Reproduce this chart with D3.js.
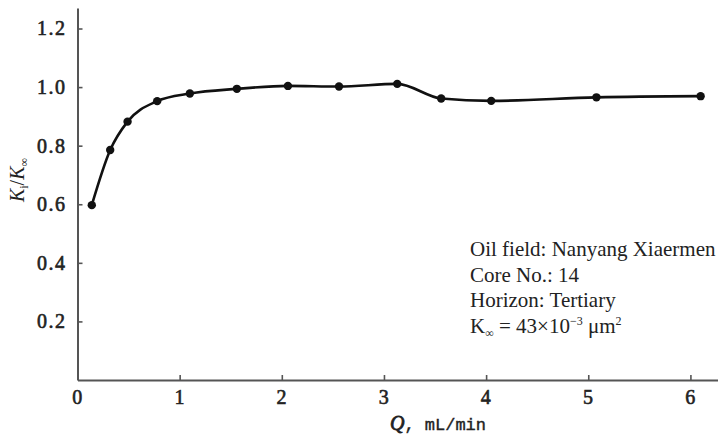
<!DOCTYPE html>
<html>
<head>
<meta charset="utf-8">
<script src="https://cdn.jsdelivr.net/npm/d3@7"></script>
<style>
  body { margin: 0; background: #fff; }
  svg { display: block; }
</style>
</head>
<body>
<div id="vis"></div>
<script>
// flow rate Q (mL/min) and ratio Ki/K∞
const flowRate = [0.14, 0.32, 0.49, 0.78, 1.10, 1.56, 2.06, 2.56, 3.13, 3.56, 4.05, 5.08, 6.10];
const permRatio = [0.597, 0.785, 0.882, 0.952, 0.978, 0.994, 1.004, 1.002, 1.011, 0.961, 0.953, 0.965, 0.969];
const xTicks = [0, 1, 2, 3, 4, 5, 6];
const yTicks = [0.2, 0.4, 0.6, 0.8, 1.0, 1.2];
const noteLines = ["Oil field: Nanyang Xiaermen", "Core No.: 14", "Horizon: Tertiary"];

const width = 718, height = 437;
const axisColor = "#555";
const serif = "Liberation Serif";

const svg = d3.select("#vis").append("svg")
  .attr("width", width)
  .attr("height", height);

const x = d3.scaleLinear().domain([0, 6.27]).range([77.5, 718]);
const y = d3.scaleLinear().domain([0, 1.27]).range([380, 8]);

const data = flowRate.map((q, i) => ({q: q, k: permRatio[i]}));

// x axis, ticks pointing up
const xAxis = svg.append("g")
  .attr("transform", "translate(0,380)")
  .call(d3.axisBottom(x).tickValues(xTicks).tickSize(-5).tickSizeOuter(0).tickPadding(10).tickFormat(d3.format("d")));

// y axis, ticks pointing right
const yAxis = svg.append("g")
  .attr("transform", "translate(77.5,0)")
  .call(d3.axisLeft(y).tickValues(yTicks).tickSize(-5).tickSizeOuter(0).tickPadding(11).tickFormat(d3.format(".1f")));

[xAxis, yAxis].forEach(function(ax) {
  ax.attr("font-family", serif)
    .attr("font-size", 20);
  ax.select(".domain").attr("stroke", axisColor).attr("stroke-width", 2);
  ax.selectAll(".tick line").attr("stroke", axisColor).attr("stroke-width", 1.6);
  // fake a heavier face with a thin outline
  ax.selectAll(".tick text")
    .attr("fill", "#222")
    .attr("stroke", "#222")
    .attr("stroke-width", 0.6)
    .attr("letter-spacing", 1.5);
});
xAxis.selectAll(".tick text").attr("dy", "0.72em");

// curve
const line = d3.line()
  .x(function(d) { return x(d.q); })
  .y(function(d) { return y(d.k); })
  .curve(d3.curveMonotoneX);

svg.append("path")
  .datum(data)
  .attr("fill", "none")
  .attr("stroke", "#111")
  .attr("stroke-width", 2.6)
  .attr("d", line);

svg.selectAll("circle.pt")
  .data(data)
  .enter()
  .append("circle")
    .attr("class", "pt")
    .attr("cx", function(d) { return x(d.q); })
    .attr("cy", function(d) { return y(d.k); })
    .attr("r", 4.2)
    .attr("fill", "#111");

// axis titles
const xTitle = svg.append("text")
  .attr("x", 438)
  .attr("y", 430)
  .attr("text-anchor", "middle")
  .attr("fill", "#222");
xTitle.append("tspan")
  .attr("font-family", serif)
  .attr("font-style", "italic")
  .attr("font-size", 20)
  .attr("stroke", "#222")
  .attr("stroke-width", 0.8)
  .text("Q");
xTitle.append("tspan")
  .attr("font-family", "Liberation Mono")
  .attr("font-size", 17)
  .attr("stroke", "#222")
  .attr("stroke-width", 0.4)
  .text(", mL/min");

const yTitle = svg.append("text")
  .attr("transform", "translate(24,180) rotate(-90)")
  .attr("text-anchor", "middle")
  .attr("fill", "#222")
  .attr("font-family", serif)
  .attr("font-size", 20);
yTitle.append("tspan").attr("font-style", "italic").text("K");
yTitle.append("tspan").attr("dy", 4).attr("font-size", 12).text("i");
yTitle.append("tspan").attr("dy", -4).text("/");
yTitle.append("tspan").attr("font-style", "italic").text("K");
yTitle.append("tspan").attr("dy", 4).attr("font-size", 12).text("∞");

// annotation block
const note = svg.append("g")
  .attr("fill", "#222")
  .attr("font-family", serif)
  .attr("font-size", 21);

note.selectAll("text.note")
  .data(noteLines)
  .enter()
  .append("text")
    .attr("class", "note")
    .attr("x", 470)
    .attr("y", function(d, i) { return 256 + i * 25.5; })
    .text(function(d) { return d; });

const kLine = note.append("text")
  .attr("x", 470)
  .attr("y", 256 + 3 * 25.5);
kLine.append("tspan").text("K");
kLine.append("tspan").attr("dy", 4).attr("font-size", 12).text("∞");
kLine.append("tspan").attr("dy", -4).text(" = 43×10");
kLine.append("tspan").attr("dy", -8).attr("font-size", 12).text("−3");
kLine.append("tspan").attr("dy", 8).text(" μm");
kLine.append("tspan").attr("dy", -8).attr("font-size", 12).text("2");
</script>
</body>
</html>
